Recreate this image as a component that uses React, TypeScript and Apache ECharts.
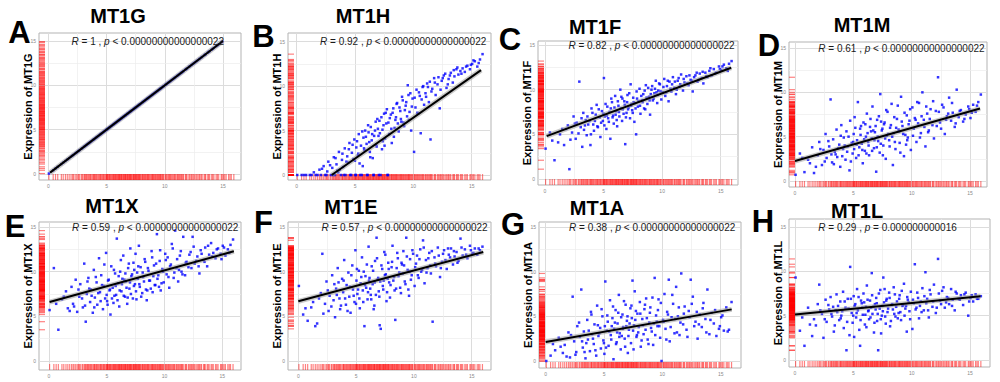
import { useEffect, useRef } from "react";
import * as echarts from "echarts";

// Shared x values (samples) read from the rug / scatter clouds
const sampleX = [
  0.05, 0.42, 0.81, 1.12, 1.47, 1.63, 1.95, 2.08, 2.31, 2.44,
  2.62, 2.71, 2.93, 3.05, 3.18, 3.27, 3.41, 3.56, 3.62, 3.79,
  3.88, 3.97, 4.12, 4.18, 4.33, 4.41, 4.52, 4.67, 4.73, 4.86,
  4.94, 5.03, 5.11, 5.24, 5.32, 5.39, 5.51, 5.58, 5.72, 5.81,
  5.87, 5.99, 6.08, 6.16, 6.27, 6.35, 6.43, 6.58, 6.64, 6.77,
  6.85, 6.96, 7.04, 7.13, 7.26, 7.31, 7.44, 7.57, 7.63, 7.78,
  7.86, 7.93, 8.07, 8.15, 8.28, 8.39, 8.46, 8.61, 8.74, 8.88,
  8.97, 9.09, 9.21, 9.34, 9.46, 9.58, 9.67, 9.81, 9.93, 10.06,
  10.18, 10.27, 10.41, 10.55, 10.63, 10.79, 10.92, 11.04, 11.18, 11.33,
  11.47, 11.62, 11.78, 11.91, 12.07, 12.26, 12.43, 12.61, 12.84, 13.02,
  13.21, 13.38, 13.52, 13.69, 13.86, 14.03, 14.22, 14.41, 14.63, 14.85,
  15.04, 15.27, 15.48, 15.71, 15.93, 3.48, 5.66, 6.52, 7.38, 9.52,
  1.28, 2.17, 2.55, 2.86, 3.12, 3.33, 3.69, 3.92, 4.05, 4.26,
  4.47, 4.59, 4.79, 4.99, 5.07, 5.17, 5.28, 5.45, 5.62, 5.77,
  5.93, 6.03, 6.12, 6.22, 6.31, 6.47, 6.61, 6.71, 6.81, 6.91,
  7.01, 7.09, 7.19, 7.35, 7.49, 7.53, 7.68, 7.73, 7.82, 7.98,
  8.11, 8.22, 8.33, 8.51, 8.56, 8.67, 8.81, 8.93, 9.03, 9.15,
  9.27, 9.39, 9.62, 9.74, 9.87, 10.11, 10.34, 10.48, 10.71, 10.85,
  11.09, 11.25, 11.41, 11.55, 11.84, 12.15, 12.33, 12.52, 12.73, 12.95,
  13.13, 13.46, 13.77, 14.12, 14.52, 14.93, 0.62, 1.79, 15.15, 15.6,
];

// MT1G: R = 1, points lie on the identity line
const yMT1G = sampleX;

const yMT1H = [
  0, 0, 0, 0, 0.3, 0, 0.6, 0, 1.0, 0,
  0.4, 1.5, 0, 0.8, 2.0, 0, 1.2, 0.3, 2.6, 0,
  1.7, 0.9, 3.0, 0, 2.1, 1.4, 3.6, 0, 2.5, 1.8,
  4.0, 0, 3.1, 2.2, 4.6, 1.3, 3.3, 0, 4.2, 2.8,
  5.0, 3.5, 0, 4.8, 2.6, 5.4, 3.9, 0, 4.4, 6.0,
  3.2, 5.2, 0, 4.7, 6.5, 2.9, 5.6, 4.1, 7.0, 0,
  5.9, 4.6, 6.8, 3.6, 7.5, 5.3, 6.2, 8.1, 4.9, 7.2,
  6.0, 8.4, 5.5, 7.8, 6.6, 9.0, 7.1, 5.0, 8.6, 2.6,
  7.6, 9.6, 6.9, 8.9, 4.7, 9.9, 7.9, 9.2, 10.3, 8.2,
  4.0, 9.7, 10.9, 9.0, 10.2, 7.5, 10.6, 11.2, 9.8, 10.8,
  11.5, 10.4, 11.1, 11.9, 11.3, 11.7, 12.0, 11.6, 12.3, 11.9,
  12.5, 12.8, 12.2, 13.0, 13.6, 0.5, 1.0, 1.9, 3.8, 10.1,
  0, 0.7, 0, 1.1, 0, 1.9, 0.6, 2.4, 0, 1.5,
  2.9, 0, 3.4, 1.6, 0, 3.8, 2.4, 0, 4.9, 3.0,
  4.3, 0, 5.6, 3.7, 2.0, 4.6, 0, 5.0, 3.4, 6.3,
  4.4, 6.1, 0, 5.1, 6.9, 3.3, 5.8, 7.4, 0, 6.4,
  5.2, 7.0, 4.3, 6.5, 8.0, 5.8, 7.6, 6.3, 8.8, 5.9,
  7.3, 8.2, 6.2, 9.2, 7.7, 8.7, 7.0, 9.3, 8.5, 10.0,
  8.8, 9.9, 10.5, 9.4, 10.4, 11.0, 9.6, 10.9, 11.4, 10.2,
  11.2, 11.8, 12.1, 11.4, 12.2, 12.4, 0, 0, 12.9, 12.6,
];

const yMT1F = [
  3.4, 5.2, 2.1, 4.1, 5.6, 3.8, 6.0, 1.1, 5.2, 7.0,
  4.5, 6.3, 10.9, 5.8, 3.6, 7.4, 6.0, 4.9, 7.0, 6.5,
  3.8, 7.9, 6.1, 5.4, 7.2, 8.3, 5.8, 6.9, 4.7, 7.6,
  6.5, 11.3, 7.0, 5.6, 8.1, 6.8, 7.5, 4.5, 8.6, 7.1,
  6.2, 9.3, 7.6, 5.9, 8.2, 7.0, 10.0, 6.5, 7.8, 8.7,
  3.9, 7.4, 9.4, 8.0, 6.8, 10.6, 7.7, 8.6, 6.4, 5.0,
  9.0, 8.1, 10.1, 7.3, 8.8, 9.5, 7.9, 10.5, 8.4, 9.2,
  7.2, 10.0, 8.8, 9.6, 11.0, 8.5, 9.9, 10.6, 8.9, 9.7,
  11.2, 9.3, 10.4, 8.7, 10.9, 9.8, 11.4, 10.2, 9.5, 11.0,
  10.3, 11.7, 9.9, 10.8, 11.5, 10.5, 11.1, 9.8, 11.6, 10.9,
  11.8, 11.3, 10.7, 11.9, 11.4, 12.1, 11.6, 12.3, 11.9, 12.6,
  12.2, 12.8, 12.4, 12.9, 13.2, 6.6, 9.0, 9.2, 8.4, 9.7,
  5.0, 4.4, 6.2, 5.1, 6.8, 5.5, 6.1, 5.0, 7.4, 6.5,
  5.9, 7.8, 6.3, 7.3, 6.0, 8.4, 7.1, 6.4, 7.9, 6.9,
  8.0, 7.2, 6.6, 8.7, 7.5, 7.9, 9.0, 7.3, 8.3, 6.9,
  8.6, 7.8, 9.6, 8.2, 7.4, 9.1, 8.5, 7.9, 9.8, 8.7,
  8.2, 9.3, 8.6, 9.9, 7.8, 9.1, 10.2, 8.8, 9.5, 10.4,
  9.0, 10.1, 9.4, 10.7, 9.8, 10.3, 9.7, 11.0, 10.1, 10.6,
  10.9, 10.0, 11.3, 10.6, 11.2, 10.7, 11.6, 11.0, 11.4, 11.9,
  11.1, 12.0, 11.5, 12.4, 11.8, 12.3, 4.3, 5.6, 12.6, 12.1,
];

const yMT1M = [
  0.7, 3.1, 1.0, 2.4, 3.8, 0.9, 2.9, 4.4, 1.8, 3.5,
  5.3, 2.6, 3.9, 9.2, 2.1, 4.7, 3.3, 5.8, 2.7, 4.1,
  1.6, 6.3, 3.6, 4.9, 2.4, 5.6, 3.9, 1.2, 6.8, 4.3,
  3.1, 5.3, 7.2, 2.6, 4.6, 8.9, 3.8, 5.9, 4.2, 2.0,
  6.6, 3.4, 5.0, 7.6, 4.4, 2.9, 6.1, 4.8, 8.4, 3.7,
  5.5, 1.05, 6.9, 4.5, 3.2, 9.8, 5.7, 4.0, 6.4, 2.5,
  5.1, 7.8, 4.6, 6.0, 8.7, 1.8, 5.4, 3.6, 7.0, 5.8,
  4.3, 9.5, 6.2, 2.8, 5.2, 7.4, 4.9, 6.8, 3.5, 8.3,
  5.9, 7.1, 4.4, 6.5, 8.8, 5.4, 10.0, 6.9, 3.9, 7.6,
  5.7, 8.1, 6.3, 4.8, 7.9, 11.7, 6.6, 8.6, 5.3, 7.3,
  9.4, 6.8, 7.7, 6.1, 10.3, 7.2, 8.0, 6.7, 7.5, 8.4,
  7.1, 8.6, 7.8, 8.9, 9.75, 3.0, 6.2, 5.6, 6.7, 4.1,
  2.0, 3.6, 2.2, 4.5, 3.0, 1.9, 3.7, 5.1, 2.8, 4.0,
  3.3, 5.0, 2.2, 4.4, 3.6, 6.0, 4.1, 2.9, 5.2, 3.5,
  4.7, 6.4, 3.1, 5.4, 4.0, 7.0, 3.4, 5.7, 4.6, 6.2,
  3.8, 5.0, 7.3, 4.2, 5.9, 2.9, 6.6, 4.8, 8.0, 5.3,
  3.9, 6.3, 5.0, 7.2, 4.4, 6.0, 8.5, 5.6, 3.2, 6.7,
  5.3, 7.7, 4.6, 6.4, 8.1, 5.1, 6.9, 8.9, 4.9, 7.3,
  6.1, 8.4, 5.5, 7.0, 9.0, 6.2, 7.8, 5.9, 8.3, 6.9,
  7.6, 8.8, 6.5, 7.9, 7.0, 8.1, 2.6, 1.6, 7.7, 8.5,
];

const yMT1X = [
  5.7, 10.4, 3.5, 6.9, 7.8, 5.9, 8.3, 6.4, 9.1, 5.5,
  7.2, 8.6, 6.0, 10.9, 4.4, 7.5, 9.3, 6.6, 8.0, 5.4,
  10.2, 7.1, 8.8, 6.3, 11.5, 7.7, 9.6, 5.8, 8.4, 7.0,
  12.1, 6.7, 9.0, 7.9, 5.2, 10.6, 8.2, 6.5, 9.8, 7.4,
  13.7, 8.7, 6.1, 10.0, 7.8, 9.2, 11.8, 7.2, 8.9, 6.4,
  10.4, 8.1, 12.6, 9.5, 7.0, 11.0, 8.6, 6.9, 9.9, 12.9,
  8.3, 10.5, 7.6, 9.4, 11.4, 8.0, 6.8, 10.1, 9.0, 12.3,
  7.7, 10.7, 8.5, 14.2, 9.6, 11.2, 7.9, 10.3, 8.8, 12.0,
  9.7, 11.6, 8.2, 10.8, 13.1, 9.3, 14.6, 10.4, 8.9, 11.8,
  10.0, 13.9, 9.6, 11.1, 10.5, 12.2, 13.9, 10.9, 11.7, 9.8,
  12.0, 11.3, 12.7, 10.6, 11.9, 13.2, 12.1, 11.5, 12.6, 12.0,
  12.9, 11.8, 12.5, 13.0, 13.6, 8.1, 7.3, 9.1, 10.2, 8.3,
  7.2, 6.1, 8.0, 7.0, 6.2, 8.9, 7.3, 6.0, 9.4, 7.6,
  6.7, 8.5, 10.8, 7.4, 6.3, 9.1, 8.0, 7.0, 10.2, 8.4,
  6.8, 9.5, 7.9, 11.3, 8.6, 7.3, 9.8, 8.2, 7.1, 10.9,
  8.8, 7.5, 9.7, 8.4, 12.0, 7.8, 9.2, 10.6, 8.6, 7.2,
  9.9, 8.9, 11.1, 7.9, 10.4, 9.0, 8.1, 11.6, 9.5, 8.5,
  10.9, 9.2, 12.4, 8.7, 10.0, 11.3, 9.4, 10.6, 12.6, 9.9,
  11.4, 10.2, 12.3, 9.7, 11.0, 11.9, 10.4, 12.8, 11.2, 10.6,
  12.4, 11.1, 12.9, 11.7, 12.5, 11.4, 6.4, 5.6, 12.7, 12.1,
];

const yMT1E = [
  8.4, 5.2, 4.5, 6.0, 3.9, 4.2, 7.6, 12.0, 6.4, 8.9,
  5.6, 7.3, 9.6, 6.8, 4.9, 8.1, 10.4, 7.0, 5.8, 9.2,
  7.7, 11.3, 6.3, 8.5, 9.9, 7.2, 5.4, 10.7, 8.0, 6.6,
  12.4, 9.0, 7.5, 10.1, 5.9, 8.7, 11.6, 7.9, 3.9, 9.5,
  8.2, 6.9, 12.8, 9.3, 7.4, 10.6, 8.6, 6.2, 11.2, 13.8,
  9.1, 7.8, 4.0, 3.6, 10.3, 8.4, 12.2, 9.7, 6.7, 11.0,
  8.8, 7.1, 10.5, 12.9, 9.4, 4.6, 8.1, 11.5, 9.9, 7.6,
  10.8, 12.3, 8.9, 13.8, 10.2, 7.3, 11.4, 9.6, 12.0, 8.4,
  10.9, 11.8, 9.3, 12.5, 10.0, 13.5, 8.7, 11.3, 10.4, 12.1,
  9.8, 4.4, 11.6, 10.6, 12.7, 9.4, 11.1, 12.4, 10.3, 11.9,
  12.6, 10.8, 11.7, 12.2, 11.2, 13.7, 11.8, 12.5, 11.5, 12.9,
  12.0, 12.6, 11.9, 12.4, 12.8, 8.8, 10.0, 5.8, 9.0, 8.0,
  6.6, 5.3, 7.9, 6.1, 8.6, 7.4, 6.2, 9.0, 7.0, 5.6,
  8.3, 9.6, 7.3, 6.4, 10.3, 8.0, 7.0, 9.4, 6.6, 8.5,
  10.8, 7.7, 9.0, 8.1, 6.9, 10.1, 8.8, 7.4, 11.5, 9.3,
  7.2, 8.9, 10.7, 8.0, 9.6, 11.9, 7.7, 9.2, 10.3, 8.5,
  11.1, 9.0, 7.9, 10.4, 12.1, 9.5, 8.2, 11.0, 9.8, 10.7,
  8.6, 11.7, 10.0, 9.1, 12.4, 10.5, 9.6, 11.4, 10.2, 12.7,
  9.9, 11.5, 10.7, 12.3, 10.9, 11.8, 10.4, 12.0, 11.3, 12.6,
  11.6, 12.3, 11.0, 12.7, 11.9, 12.4, 5.9, 7.0, 12.1, 12.6,
];

const yMT1A = [
  0.0, 0.6, 1.2, 2.6, 0.9, 1.8, 3.2, 0.4, 7.2, 2.2,
  1.0, 3.9, 2.7, 8.0, 1.5, 3.3, 0.3, 4.6, 2.4, 1.1,
  5.5, 3.0, 1.9, 4.1, 0.6, 6.2, 2.8, 3.7, 1.4, 5.0,
  2.3, 0.8, 8.9, 3.4, 4.4, 1.7, 6.8, 2.9, 4.8, 0.2,
  3.6, 5.7, 2.1, 4.2, 7.4, 3.1, 1.3, 5.2, 3.8, 2.5,
  6.3, 4.5, 0.9, 3.5, 5.9, 2.0, 9.0, 4.0, 7.8, 2.7,
  5.3, 3.2, 6.6, 1.6, 4.7, 3.0, 5.8, 7.0, 2.4, 4.3,
  6.0, 3.3, 1.8, 9.3, 5.1, 3.9, 6.9, 2.6, 0.0, 4.6,
  7.5, 3.6, 5.5, 9.1, 2.2, 4.9, 6.4, 3.1, 8.3, 5.0,
  2.9, 9.8, 4.1, 6.1, 3.5, 5.6, 9.1, 7.2, 4.4, 2.5,
  5.2, 3.8, 6.5, 4.7, 8.0, 3.0, 5.4, 4.2, 2.8, 3.6,
  4.9, 3.4, 6.0, 3.5, 6.6, 2.0, 3.9, 2.8, 4.8, 4.4,
  1.6, 2.9, 0.7, 4.3, 2.2, 1.0, 3.4, 5.2, 2.5, 1.2,
  4.0, 3.1, 5.8, 2.0, 3.9, 1.5, 5.1, 3.3, 2.4, 6.1,
  4.3, 1.9, 3.2, 5.4, 2.7, 4.9, 3.6, 6.7, 1.6, 3.9,
  5.0, 2.8, 4.2, 6.2, 3.4, 1.3, 4.6, 5.6, 2.9, 3.8,
  5.3, 2.3, 4.0, 6.3, 3.5, 4.8, 1.9, 5.4, 3.7, 7.1,
  4.2, 2.9, 5.7, 3.9, 6.5, 4.4, 2.4, 5.2, 3.8, 7.4,
  4.7, 3.2, 6.0, 4.3, 5.3, 2.7, 4.9, 6.4, 3.9, 5.5,
  4.1, 5.9, 3.2, 4.6, 5.7, 3.9, 1.9, 0.5, 5.1, 3.3,
];

const yMT1L = [
  9.3, 3.3, 1.6, 5.9, 2.7, 4.6, 6.3, 8.5, 5.2, 2.5,
  6.8, 4.3, 5.7, 7.1, 4.9, 6.0, 3.9, 7.4, 5.4, 4.5,
  6.6, 5.0, 7.7, 3.6, 5.9, 1.1, 6.9, 2.8, 10.5, 5.3,
  4.2, 7.2, 6.1, 4.8, 8.0, 5.6, 3.4, 1.6, 6.4, 5.1,
  7.5, 4.0, 6.0, 8.4, 5.5, 4.6, 6.7, 9.8, 5.2, 3.1,
  6.3, 7.0, 4.4, 1.1, 5.8, 7.9, 5.0, 9.3, 6.5, 4.1,
  6.9, 5.4, 7.6, 3.8, 6.2, 5.7, 8.2, 4.9, 6.6, 5.3,
  7.3, 4.5, 6.1, 8.6, 5.8, 3.2, 6.8, 5.5, 7.7, 3.5,
  6.4, 10.8, 5.9, 7.0, 4.7, 6.6, 8.1, 5.6, 9.9, 6.9,
  4.8, 7.4, 6.0, 8.5, 5.3, 11.4, 6.7, 7.8, 5.9, 7.1,
  6.3, 8.0, 6.8, 5.6, 7.5, 6.9, 7.3, 6.2, 7.6, 5.0,
  7.0, 6.6, 7.4, 6.9, 7.2, 5.6, 6.7, 5.9, 3.0, 6.1,
  4.0, 5.6, 4.6, 6.2, 5.2, 3.2, 6.1, 4.7, 5.5, 6.6,
  4.3, 5.8, 6.9, 5.0, 2.6, 6.3, 5.3, 7.1, 4.5, 5.9,
  6.5, 5.1, 3.7, 6.8, 5.6, 4.8, 7.3, 6.0, 4.2, 5.7,
  6.4, 5.2, 7.5, 4.6, 6.1, 5.5, 8.0, 4.9, 6.7, 5.8,
  7.0, 4.4, 6.3, 5.2, 7.4, 6.0, 4.7, 6.9, 5.4, 7.8,
  6.2, 5.0, 7.1, 6.5, 4.6, 6.8, 5.7, 7.6, 6.1, 5.4,
  7.2, 6.4, 5.6, 7.9, 6.6, 5.9, 7.5, 6.3, 8.2, 6.5,
  7.0, 6.1, 7.7, 6.8, 7.4, 6.6, 4.8, 3.9, 7.3, 6.9,
];

const genes = ["MT1G", "MT1H", "MT1F", "MT1M", "MT1X", "MT1E", "MT1A", "MT1L"];
const letters = ["A", "B", "C", "D", "E", "F", "G", "H"];
const rValues = ["1", "0.92", "0.82", "0.61", "0.59", "0.57", "0.38", "0.29"];
const pTexts = [
  "< 0.00000000000000022",
  "< 0.00000000000000022",
  "< 0.00000000000000022",
  "< 0.00000000000000022",
  "< 0.00000000000000022",
  "< 0.00000000000000022",
  "< 0.00000000000000022",
  "= 0.000000000016",
];
// regression line end points [x0, y0, x1, y1]
const fitLines = [
  [0.15, 0.15, 15.0, 15.0],
  [3.0, 0.0, 15.8, 11.8],
  [0.14, 4.8, 15.9, 12.46],
  [0.0, 2.25, 15.86, 8.17],
  [0.05, 6.6, 16.0, 12.28],
  [0.0, 6.68, 16.0, 12.2],
  [0.0, 2.13, 15.94, 5.78],
  [0.0, 5.14, 15.9, 7.2],
];
const tickValues = [0, 5, 10, 15];
const minorValues = [2.5, 7.5, 12.5];
const labelX = 2; // x position (data units) of the R / p label
const labelY = 15;

const yByPanel = [yMT1G, yMT1H, yMT1F, yMT1M, yMT1X, yMT1E, yMT1A, yMT1L];

// ---- layout (pixels) ----
const layout = [
  { L: 39, T: 33, R: 241, B: 180, x0: 48.3, x15: 223, y0: 174, y15: 41, title: [118, 16], letter: [19.5, 32] },
  { L: 288, T: 33, R: 491, B: 180, x0: 296.7, x15: 471.7, y0: 175, y15: 41.7, title: [363, 16], letter: [263.5, 36] },
  { L: 538, T: 41, R: 738, B: 185, x0: 545, x15: 720.7, y0: 179, y15: 45, title: [595, 26.5], letter: [510, 39] },
  { L: 789, T: 42, R: 987, B: 187, x0: 795, x15: 970, y0: 181, y15: 48, title: [862, 25], letter: [769, 45] },
  { L: 39, T: 222, R: 241, B: 370, x0: 49, x15: 222.3, y0: 361, y15: 227, title: [112, 205.5], letter: [15, 226] },
  { L: 288, T: 222, R: 491, B: 370, x0: 298.3, x15: 471.7, y0: 361, y15: 227, title: [351, 206.5], letter: [263.5, 222] },
  { L: 539, T: 222, R: 741, B: 368, x0: 545.7, x15: 720.7, y0: 361, y15: 227, title: [597, 207.5], letter: [513, 224] },
  { L: 789, T: 219, R: 990, B: 367, x0: 795, x15: 970, y0: 360, y15: 227, title: [857, 210.5], letter: [763, 221] },
];

const FONT = 'Arial, "Liberation Sans", Helvetica, sans-serif';
const RUG_COLOR = "rgba(255,0,0,0.62)";

function buildOption() {
  const grids: any[] = [];
  const xAxes: any[] = [];
  const yAxes: any[] = [];
  const series: any[] = [];
  const graphics: any[] = [];

  layout.forEach((lay, i) => {
    const xs = (lay.x15 - lay.x0) / 15;
    const ys = (lay.y0 - lay.y15) / 15;
    const xMin = (lay.L - lay.x0) / xs;
    const xMax = (lay.R - lay.x0) / xs;
    const yMax = (lay.y0 - lay.T) / ys;
    const yMin = (lay.y0 - lay.B) / ys;

    grids.push({
      left: lay.L,
      top: lay.T,
      width: lay.R - lay.L,
      height: lay.B - lay.T,
      show: true,
      borderColor: "#b3b3b3",
      borderWidth: 1,
      backgroundColor: "#ffffff",
      containLabel: false,
      outerBoundsMode: "none",
    });

    const axisCommon = {
      gridIndex: i,
      type: "value",
      axisLine: { show: false },
      splitLine: { show: false },
      axisTick: {
        show: true,
        customValues: tickValues,
        length: 2,
        lineStyle: { color: "#9a9a9a", width: 0.6 },
      },
      axisLabel: {
        customValues: tickValues,
        fontSize: 5,
        color: "#8a8a8a",
        margin: 3,
        fontFamily: FONT,
      },
    };
    xAxes.push({ ...axisCommon, min: xMin, max: xMax });
    yAxes.push({ ...axisCommon, min: yMin, max: yMax });

    const yv = yByPanel[i];
    let pts = sampleX.map((x, k) => [x, yv[k]]);
    if (i === 0) pts = pts.filter((p) => p[0] <= fitLines[0][2]);

    const gridLineData: any[] = [];
    tickValues.forEach((v) => {
      gridLineData.push({ xAxis: v, lineStyle: { color: "#dcdcdc", width: 1, type: "solid" } });
      gridLineData.push({ yAxis: v, lineStyle: { color: "#dcdcdc", width: 1, type: "solid" } });
    });
    minorValues.forEach((v) => {
      gridLineData.push({ xAxis: v, lineStyle: { color: "#ececec", width: 0.7, type: "solid" } });
      gridLineData.push({ yAxis: v, lineStyle: { color: "#ececec", width: 0.7, type: "solid" } });
    });

    // rug along x (bottom) + grid lines as mark lines
    series.push({
      type: "scatter",
      xAxisIndex: i,
      yAxisIndex: i,
      data: sampleX.map((x) => [x, yMin]),
      symbol: "rect",
      symbolSize: [1.2, 6],
      symbolOffset: [0, -3],
      itemStyle: { color: RUG_COLOR },
      clip: false,
      silent: true,
      z: 2,
      markLine: {
        silent: true,
        symbol: ["none", "none"],
        label: { show: false },
        animation: false,
        z: 1,
        data: gridLineData,
      },
    });
    // rug along y (left)
    series.push({
      type: "scatter",
      xAxisIndex: i,
      yAxisIndex: i,
      data: pts.map((p) => [xMin, p[1]]),
      symbol: "rect",
      symbolSize: [6, 1.2],
      symbolOffset: [3, 0],
      itemStyle: { color: RUG_COLOR },
      clip: false,
      silent: true,
      z: 2,
    });
    // points
    series.push({
      type: "scatter",
      xAxisIndex: i,
      yAxisIndex: i,
      data: pts,
      symbol: "rect",
      symbolSize: 2.5,
      itemStyle: { color: "#0000ff" },
      silent: true,
      z: 3,
    });
    const f = fitLines[i];
    const lineData = [
      [f[0], f[1]],
      [f[2], f[3]],
    ];
    series.push({
      type: "line",
      xAxisIndex: i,
      yAxisIndex: i,
      data: lineData,
      showSymbol: false,
      symbol: "none",
      lineStyle: { color: "rgba(150,150,150,0.5)", width: 5 },
      silent: true,
      z: 4,
    });
    series.push({
      type: "line",
      xAxisIndex: i,
      yAxisIndex: i,
      data: lineData,
      showSymbol: false,
      symbol: "none",
      lineStyle: { color: "#000000", width: 2 },
      silent: true,
      z: 5,
    });

    // texts
    graphics.push({
      type: "text",
      x: lay.letter[0],
      y: lay.letter[1],
      z: 10,
      style: {
        text: letters[i],
        font: `bold 31px ${FONT}`,
        fill: "#000",
        textAlign: "center",
        textVerticalAlign: "middle",
      },
    });
    graphics.push({
      type: "text",
      x: lay.title[0],
      y: lay.title[1],
      z: 10,
      style: {
        text: genes[i],
        font: `bold 20px ${FONT}`,
        fill: "#000",
        textAlign: "center",
        textVerticalAlign: "middle",
      },
    });
    graphics.push({
      type: "text",
      x: lay.L - 11,
      y: (lay.T + lay.B) / 2,
      rotation: Math.PI / 2,
      z: 10,
      style: {
        text: "Expression of " + genes[i],
        font: `bold 11px ${FONT}`,
        fill: "#000",
        textAlign: "center",
        textVerticalAlign: "middle",
      },
    });
    graphics.push({
      type: "text",
      x: lay.x0 + labelX * xs,
      y: lay.y0 - labelY * ys,
      z: 10,
      style: {
        text: `{i|R} = ${rValues[i]} , {i|p} ${pTexts[i]}`,
        fontSize: 10,
        fontFamily: FONT,
        fill: "#1a1a1a",
        textAlign: "left",
        textVerticalAlign: "middle",
        rich: {
          i: { fontStyle: "italic", fontSize: 10, fontFamily: FONT, fill: "#1a1a1a" },
        },
      },
    });
  });

  return {
    animation: false,
    backgroundColor: "#ffffff",
    grid: grids,
    xAxis: xAxes,
    yAxis: yAxes,
    series,
    graphic: graphics,
  };
}

export default function App() {
  const ref = useRef<HTMLDivElement>(null);
  useEffect(() => {
    if (!ref.current) return;
    const chart = echarts.init(ref.current, null, { renderer: "svg" });
    chart.setOption(buildOption() as any);
    return () => chart.dispose();
  }, []);
  return (
    <div
      ref={ref}
      style={{ position: "fixed", left: 0, top: 0, width: 1000, height: 382, background: "#fff" }}
    />
  );
}
